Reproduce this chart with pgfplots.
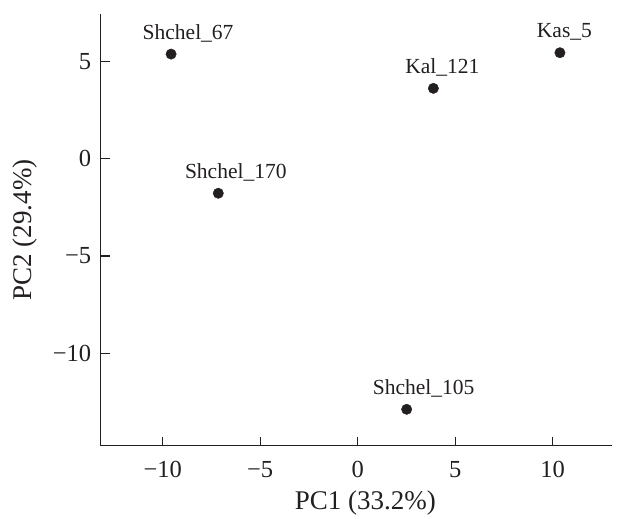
\documentclass[border=0pt]{standalone}
\usepackage{fontspec}
\setmainfont{Liberation Serif}
\usepackage{pgfplots}
\usepackage{pgfplotstable}
\pgfplotsset{compat=1.18}
\definecolor{ink}{HTML}{231F20}

% PCA scores
\pgfplotstableread{
x     y      dx   name
-9.57  5.37  17   Shchel\_67
-7.15 -1.78  17.5 Shchel\_170
 3.88  3.61  9    Kal\_121
10.37  5.44  4.5  Kas\_5
 2.51 -12.88 17   Shchel\_105
}\pcadata

\begin{document}
\begin{tikzpicture}
\begin{axis}[
  name=ax, scale only axis, width=511.3pt, height=431.7pt,
  xmin=-13.18, xmax=13.04, ymin=-14.75, ymax=7.43,
  axis x line=bottom, axis y line=left,
  axis line style={-, line width=1.2pt, ink},
  xtick={-10,-5,0,5,10}, xticklabels={−10,−5,0,5,10},
  ytick={-10,-5,0,5}, yticklabels={−10,−5,0,5},
  tick style={ink, line width=1.2pt}, major tick length=9pt, tick align=inside,
  ticklabel style={font=\fontsize{24.5}{27}\selectfont, text=ink},
  xticklabel style={yshift=-12pt},
  yticklabel style={xshift=-6pt},
  xlabel={PC1 (33.2\%)}, ylabel={PC2 (29.4\%)},
  label style={font=\fontsize{27}{31}\selectfont, text=ink},
  xlabel style={at={([xshift=9pt,yshift=-63.6pt]axis description cs:0.5,0)}, anchor=base},
  ylabel style={at={([xshift=-69.5pt]axis description cs:0,0.5)}, anchor=base},
  clip=false]
\addplot[only marks, mark=*, mark size=5.2pt, color=ink,
  nodes near coords, point meta=explicit symbolic,
  visualization depends on={\thisrow{dx}\as\dx},
  every node near coord/.style={anchor=base, xshift=\dx pt, yshift=15pt,
    font=\fontsize{21.5}{24}\selectfont, text=ink, inner sep=0pt}]
  table[x=x, y=y, meta=name] {\pcadata};
\end{axis}
\path ([shift={(-100.7pt,-66.3pt)}]ax.south west) rectangle ([shift={(15pt,14pt)}]ax.north east);
\end{tikzpicture}
\end{document}
